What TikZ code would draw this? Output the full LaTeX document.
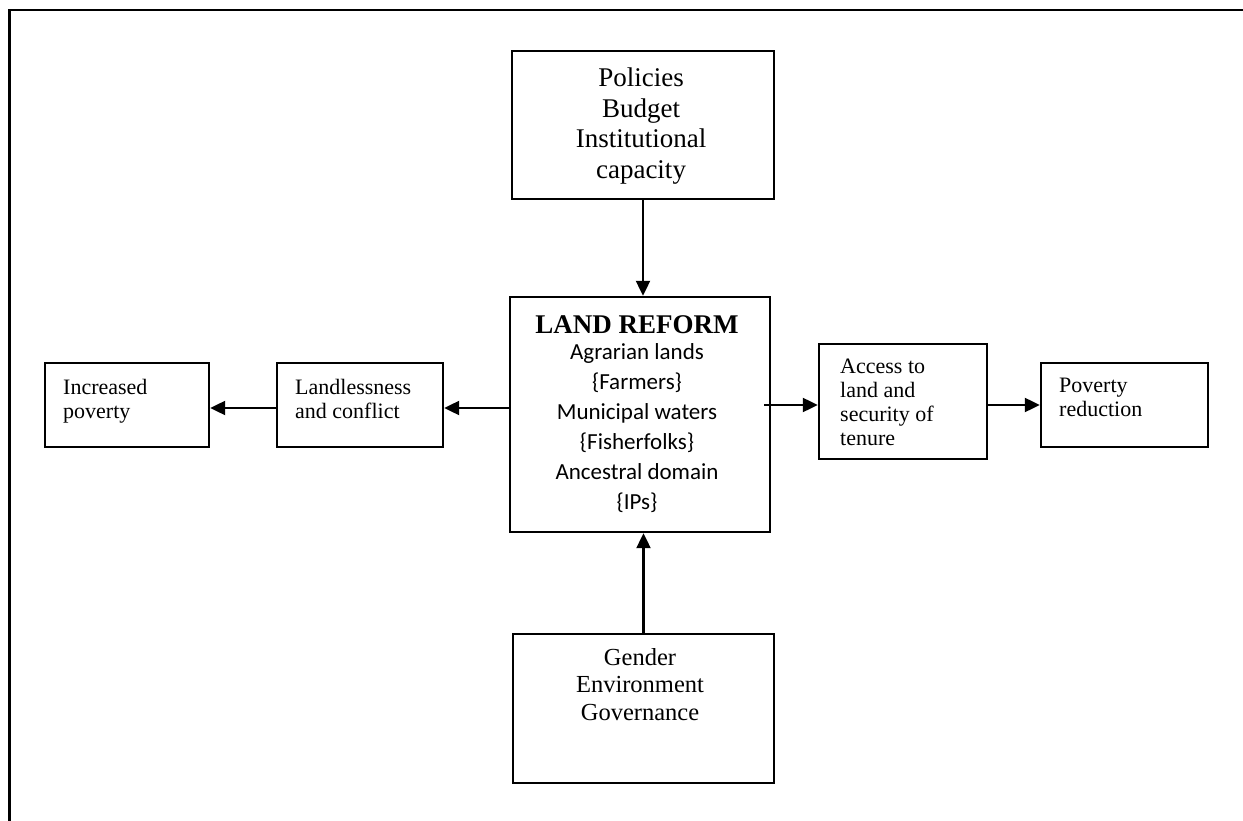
\documentclass[tikz,border=0pt]{standalone}
\usepackage{fontspec}
\setmainfont{Liberation Serif}
\newfontfamily\calibrifont{Carlito}
\usetikzlibrary{arrows.meta}
\tikzset{
  boxnode/.style={draw, line width=2.4pt, inner sep=0pt},
  arr/.style={line width=2.2pt, -{Triangle[length=15pt,width=14pt]}},
  smalltxt/.style={inner sep=0pt, anchor=north west, align=left, font=\fontsize{22}{24}\selectfont},
}
\begin{document}
\begin{tikzpicture}[x=1pt,y=-1pt]
\useasboundingbox (0,0) rectangle (1243,821);
\fill[white] (0,0) rectangle (1243,821);
% outer frame (top and left sides only)
\draw[line width=2.4pt] (1243,10) -- (9.5,10) -- (9.5,821);

% boxes
\node[boxnode, minimum width=262pt, minimum height=148pt] (pol) at (643,125) {};
\node[boxnode, minimum width=260pt, minimum height=235pt] (lr)  at (640,414.5) {};
\node[boxnode, minimum width=261pt, minimum height=149pt] (gen) at (643.5,708.5) {};
\node[boxnode, minimum width=166pt, minimum height=84pt]  (ll)  at (360,405) {};
\node[boxnode, minimum width=164pt, minimum height=84pt]  (ip)  at (127,405) {};
\node[boxnode, minimum width=168pt, minimum height=115pt] (acc) at (903,401.5) {};
\node[boxnode, minimum width=167pt, minimum height=84pt]  (pr)  at (1124.5,405) {};

% texts
\node[inner sep=0pt, anchor=north, align=center, font=\fontsize{27}{30.5}\selectfont] (poltxt) at (641,68)
  {Policies\\Budget\\Institutional\\capacity};
\node[inner sep=0pt, anchor=north, align=center, font=\calibrifont\fontsize{23}{30}\selectfont] (lrtxt) at (637,315)
  {{\rmfamily\bfseries\fontsize{27}{30}\selectfont LAND REFORM}\\[-4pt]
   Agrarian lands\\\{Farmers\}\\Municipal waters\\\{Fisherfolks\}\\Ancestral domain\\\{IPs\}};
\node[inner sep=0pt, anchor=north, align=center, font=\fontsize{24.5}{27.5}\selectfont] (gentxt) at (640,648)
  {Gender\\Environment\\Governance};
\node[smalltxt] (iptxt) at (63,379) {Increased\\poverty};
\node[smalltxt] (lltxt) at (295,379) {Landlessness\\and conflict};
\node[smalltxt] (acctxt) at (840,359) {Access to\\land and\\security of\\tenure};
\node[smalltxt] (prtxt) at (1059,378) {Poverty\\reduction};

% connectors
\draw[arr] (pol.south) -- (pol.south |- lr.north);
\draw[arr] (gen.north) -- (gen.north |- lr.south);
\draw[arr] ([yshift=6.5pt]lr.west) -- ([yshift=-3pt]ll.east);
\draw[arr] ([yshift=-3pt]ll.west) -- ([yshift=-3pt]ip.east);
\draw[arr] ([xshift=-7pt,yshift=9.5pt]lr.east) -- ([yshift=-3.5pt]acc.west);
\draw[arr] ([yshift=-3.5pt]acc.east) -- (pr.west);
\end{tikzpicture}
\end{document}
